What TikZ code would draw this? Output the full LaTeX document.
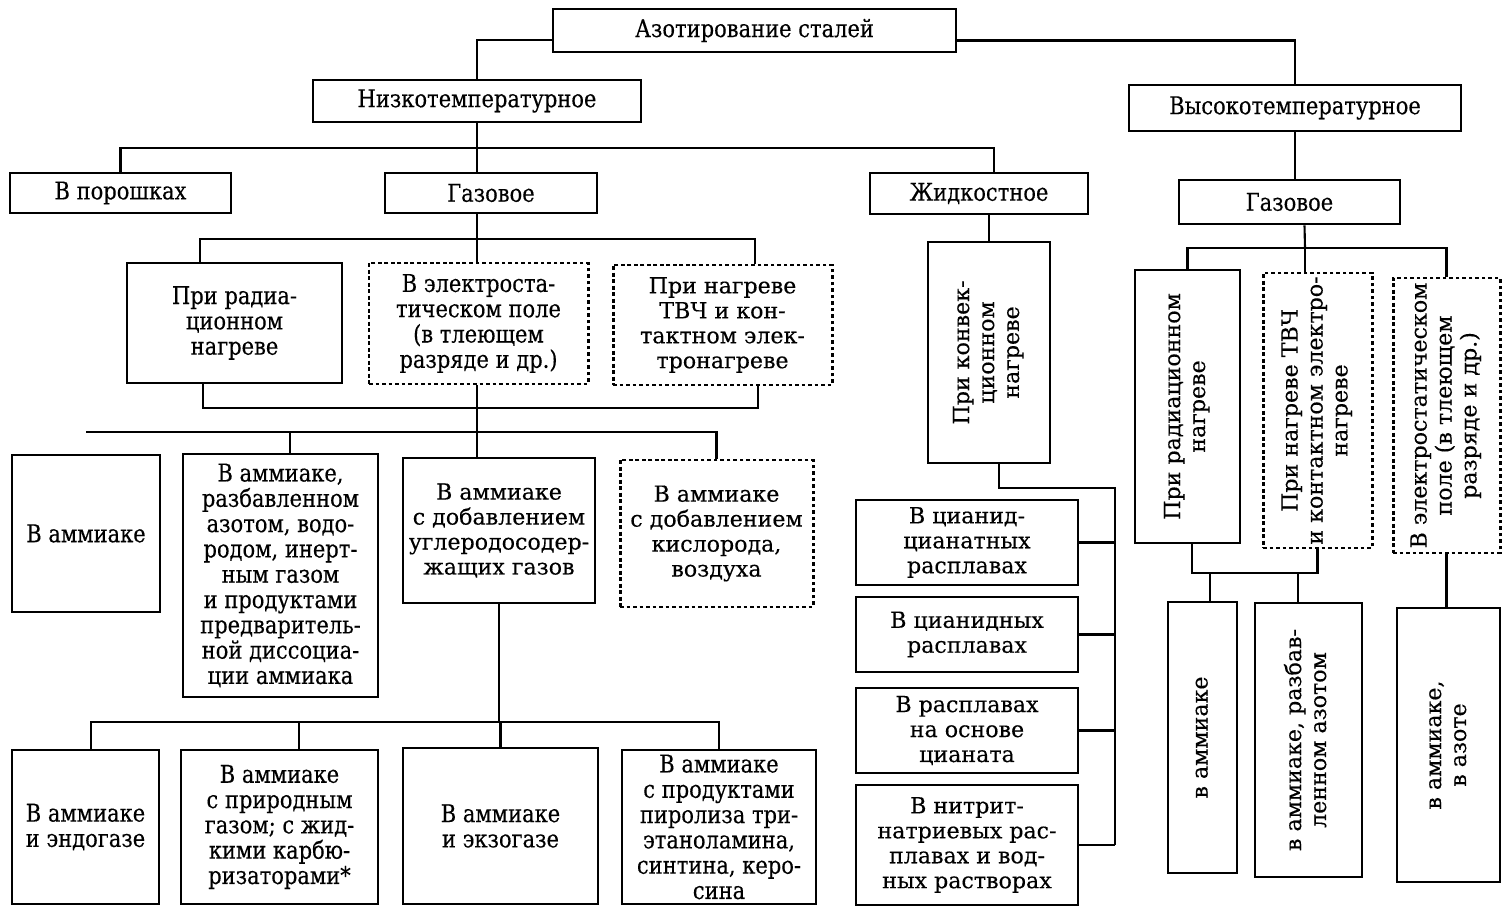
\documentclass[tikz,border=0pt]{standalone}
\usepackage{fontspec}
\usepackage{graphicx}
\newfontfamily\narrowfont[FakeStretch=0.86, FakeBold=0.3]{DejaVu Serif}
\newfontfamily\widefont[FakeBold=0.3]{DejaVu Serif}
\newcommand{\narrowText}{\narrowfont\fontsize{13.9}{14.4}\selectfont}
\newcommand{\wideText}{\widefont\fontsize{12.6}{14.2}\selectfont}
\newcommand{\upText}[1]{\rotatebox{90}{\begin{tabular}{@{}c@{}}#1\end{tabular}}}
\tikzstyle{plainBlock}=[draw, line width=1.6pt, inner sep=0pt, align=center, font=\narrowText]
\tikzstyle{dotBlock}=[plainBlock, line width=1.7pt, dash pattern=on 2.2pt off 1.5pt]
\tikzstyle{wideType}=[font=\wideText]
\tikzstyle{busLine}=[line width=1.2pt]

\begin{document}
\begin{tikzpicture}
        \useasboundingbox (0,0) rectangle (30.08,-18.14);

        % Root and temperature ranges
        \node[plainBlock, minimum width=8.06cm, minimum height=0.86cm] (root) at (15.09, -0.61) {Азотирование сталей};
        \node[plainBlock, minimum width=6.56cm, minimum height=0.84cm] (low) at (9.54, -2.02) {Низкотемпературное};
        \node[plainBlock, minimum width=6.64cm, minimum height=0.92cm] (high) at (25.90, -2.16) {Высокотемпературное};

        \draw[busLine] ([yshift=-0.19cm]root.west) -| (low.north);
        \draw[busLine] ([yshift=-0.2cm]root.east) -| (high.north);

        % Media
        \node[plainBlock, minimum width=4.42cm, minimum height=0.80cm] (powder) at (2.41, -3.86) {В порошках};
        \node[plainBlock, minimum width=4.24cm, minimum height=0.80cm] (gasL) at (9.82, -3.86) {Газовое};
        \node[plainBlock, minimum width=4.36cm, minimum height=0.82cm] (liquid) at (19.58, -3.87) {Жидкостное};
        \node[plainBlock, minimum width=4.42cm, minimum height=0.88cm] (gasR) at (25.79, -4.04) {Газовое};

        \coordinate (b1) at (9.54, -2.96);
        \draw[busLine] (low.south) -- (b1);
        \draw[busLine] (powder.north) |- (b1) -| ([xshift=0.3cm]liquid.north);
        \draw[busLine] (b1) -- (b1 |- gasL.north);
        \draw[busLine] (high.south) -- (high.south |- gasR.north);

        % Gas nitriding, heating
        \node[plainBlock, minimum width=4.30cm, minimum height=2.40cm] (radL) at (4.69, -6.46) {При радиа-\\ционном\\нагреве};
        \node[dotBlock, minimum width=4.38cm, minimum height=2.42cm] (elecL) at (9.57, -6.47) {В электроста-\\тическом поле\\(в тлеющем\\разряде и др.)};
        \node[dotBlock, wideType, minimum width=4.38cm, minimum height=2.40cm] (hfL) at (14.45, -6.50) {При нагреве\\ТВЧ и кон-\\тактном элек-\\тронагреве};

        \coordinate (b2) at (9.54, -4.78);
        \draw[busLine] (b1 |- gasL.south) -- (b2);
        \draw[busLine] ([xshift=-0.69cm]radL.north) |- (b2) -| ([xshift=0.65cm]hfL.north);
        \draw[busLine] (b2) -- (b2 |- elecL.north);

        \coordinate (b3) at (9.54, -8.16);
        \coordinate (b4) at (9.54, -8.64);
        \draw[busLine] ([xshift=-0.63cm]radL.south) |- (b3) -| ([xshift=0.71cm]hfL.south);
        \draw[busLine] (b3 |- elecL.south) -- (b3);
        \draw[busLine] (b3) -- (b4);

        % Gas nitriding, atmospheres
        \node[plainBlock, minimum width=2.96cm, minimum height=3.14cm] (amm1) at (1.72, -10.67) {В аммиаке};
        \node[plainBlock, minimum width=3.90cm, minimum height=4.86cm] (amm2) at (5.61, -11.51) {В аммиаке,\\разбавленном\\азотом, водо-\\родом, инерт-\\ным газом\\и продуктами\\предваритель-\\ной диссоциа-\\ции аммиака};
        \node[plainBlock, wideType, minimum width=3.84cm, minimum height=2.90cm] (amm3) at (9.98, -10.61) {В аммиаке\\с добавлением\\углеродосодер-\\жащих газов};
        \node[dotBlock, wideType, minimum width=3.86cm, minimum height=2.94cm] (amm4) at (14.33, -10.67) {В аммиаке\\с добавлением\\кислорода,\\воздуха};

        \draw[busLine] (amm1.north |- b4) -- (b4) -| (amm4.north);
        \draw[busLine] ([xshift=0.19cm]amm2.north) -- ([xshift=0.19cm]amm2.north |- b4);
        \draw[busLine] (b4) -- (b4 |- amm3.north);

        % Carbon bearing additions
        \node[plainBlock, minimum width=2.94cm, minimum height=3.08cm] (endo) at (1.71, -16.54) {В аммиаке\\и эндогазе};
        \node[plainBlock, minimum width=3.94cm, minimum height=3.08cm] (natgas) at (5.59, -16.54) {В аммиаке\\с природным\\газом; с жид-\\кими карбю-\\ризаторами*};
        \node[plainBlock, minimum width=3.90cm, minimum height=3.12cm] (exo) at (10.01, -16.52) {В аммиаке\\и экзогазе};
        \node[plainBlock, minimum width=3.88cm, minimum height=3.08cm] (pyro) at (14.38, -16.54) {В аммиаке\\с продуктами\\пиролиза три-\\этаноламина,\\синтина, керо-\\сина};

        \coordinate (b5) at (9.98, -14.44);
        \draw[busLine] (amm3.south) -- (b5);
        \draw[busLine] ([xshift=0.11cm]endo.north) |- (pyro.north |- b5) -- (pyro.north);
        \draw[busLine] ([xshift=0.39cm]natgas.north) -- ([xshift=0.39cm]natgas.north |- b5);
        \draw[busLine] (exo.north) -- (exo.north |- b5);

        % Liquid nitriding
        \node[plainBlock, wideType, minimum width=2.44cm, minimum height=4.42cm] (conv) at (19.78, -7.05) {\upText{При конвек-\\ционном\\нагреве}};
        \node[plainBlock, wideType, minimum width=4.44cm, minimum height=1.70cm] (cyan1) at (19.34, -10.85) {В цианид-\\цианатных\\расплавах};
        \node[plainBlock, wideType, minimum width=4.44cm, minimum height=1.50cm] (cyan2) at (19.34, -12.69) {В цианидных\\расплавах};
        \node[plainBlock, wideType, minimum width=4.44cm, minimum height=1.70cm] (cyan3) at (19.34, -14.61) {В расплавах\\на основе\\цианата};
        \node[plainBlock, wideType, minimum width=4.44cm, minimum height=2.40cm] (nitr) at (19.34, -16.90) {В нитрит-\\натриевых рас-\\плавах и вод-\\ных растворах};

        \draw[busLine] (conv.north |- liquid.south) -- (conv.north);
        \coordinate (bL) at (22.30, -9.76);
        \draw[busLine] ([xshift=0.2cm]conv.south) |- (bL) -- (bL |- nitr.east);
        \draw[busLine] (cyan1.east) -- (cyan1.east -| bL);
        \draw[busLine] (cyan2.east) -- (cyan2.east -| bL);
        \draw[busLine] (cyan3.east) -- (cyan3.east -| bL);
        \draw[busLine] (nitr.east) -- (nitr.east -| bL);

        % High temperature gas nitriding
        \node[plainBlock, wideType, minimum width=2.10cm, minimum height=5.46cm] (radR) at (23.75, -8.13) {\upText{При радиационном\\нагреве}};
        \node[dotBlock, wideType, minimum width=2.18cm, minimum height=5.50cm] (hfR) at (26.35, -8.21) {\upText{При нагреве ТВЧ\\и контактном электро-\\нагреве}};
        \node[dotBlock, wideType, minimum width=2.14cm, minimum height=5.50cm] (elecR) at (28.93, -8.31) {\upText{В электростатическом\\поле (в тлеющем\\разряде и др.)}};

        \coordinate (b6) at (26.10, -4.96);
        \draw[busLine] ([xshift=0.3cm]gasR.south) -- (b6);
        \draw[busLine] (radR.north) |- (b6) -| (elecR.north);
        \draw[busLine] (b6) -- (b6 |- hfR.north);

        \node[plainBlock, wideType, minimum width=1.38cm, minimum height=5.42cm] (nh3R) at (24.05, -14.75) {\upText{в аммиаке}};
        \node[plainBlock, wideType, minimum width=2.14cm, minimum height=5.48cm] (nh3nR) at (26.17, -14.80) {\upText{в аммиаке, разбав-\\ленном азотом}};
        \node[plainBlock, wideType, minimum width=2.06cm, minimum height=5.48cm] (nh3azR) at (28.97, -14.90) {\upText{в аммиаке,\\в азоте}};

        \coordinate (b7) at (25.00, -11.46);
        \draw[busLine] ([xshift=0.09cm]radR.south) |- (hfR.south |- b7) -- (hfR.south);
        \draw[busLine] ([xshift=0.15cm]nh3R.north) -- ([xshift=0.15cm]nh3R.north |- b7);
        \draw[busLine] ([xshift=-0.21cm]nh3nR.north) -- ([xshift=-0.21cm]nh3nR.north |- b7);
        \draw[busLine] (elecR.south) -- (elecR.south |- nh3azR.north);

    \end{tikzpicture}
\end{document}
